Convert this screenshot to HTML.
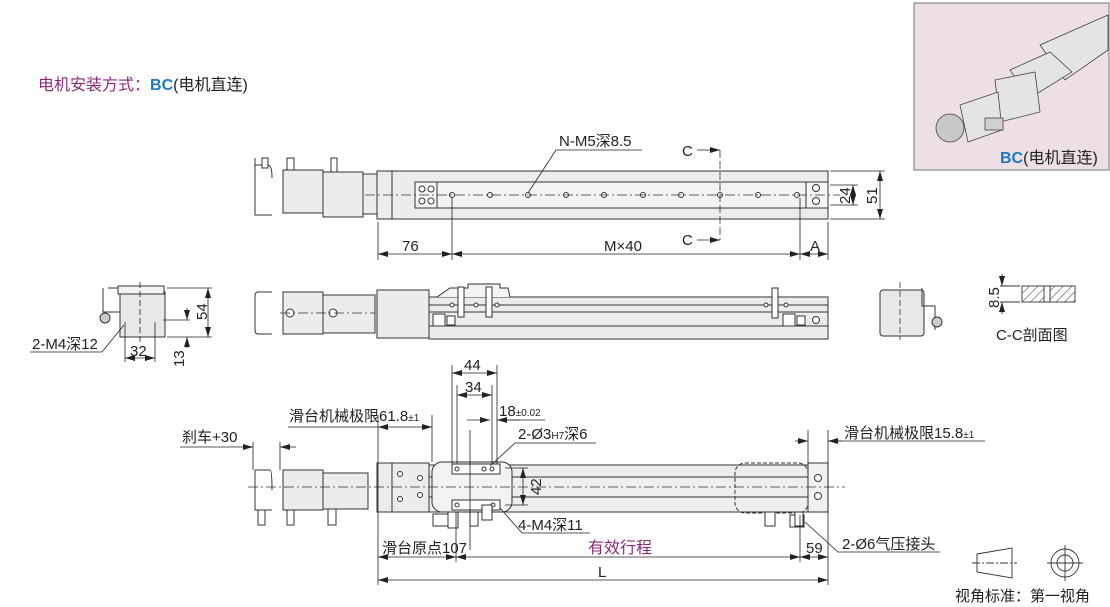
<!DOCTYPE html>
<html><head><meta charset="utf-8"><style>
html,body{margin:0;padding:0;background:#fff}
svg{display:block}
text{font-family:"Liberation Sans","Noto Sans CJK SC",sans-serif;fill:#222}
</style></head><body>
<svg width="1110" height="607" viewBox="0 0 1110 607" xmlns="http://www.w3.org/2000/svg">
<defs>
<marker id="a" viewBox="0 0 10 6" refX="10" refY="3" markerWidth="10" markerHeight="6" orient="auto-start-reverse" markerUnits="userSpaceOnUse"><path d="M0,0 L10,3 L0,6z" fill="#222"/></marker>
<pattern id="h" width="6" height="6" patternUnits="userSpaceOnUse" patternTransform="rotate(45)"><line x1="0" y1="0" x2="0" y2="6" stroke="#444" stroke-width="1"/></pattern>
</defs>
<g font-size="15">
<!-- title -->
<text x="38" y="90" font-size="16"><tspan style="fill:#8b2a7a">电机安装方式：</tspan><tspan style="fill:#1a7ac0" font-weight="bold">BC</tspan><tspan>(电机直连)</tspan></text>

<!-- photo box -->
<rect x="914" y="3" width="195" height="167" fill="#ecdfe5" stroke="#777"/>
<g stroke="#444" fill="#e4e4e4" stroke-width="0.8">
<polygon points="1040,45 1108,15 1108,50 1065,80"/>
<polygon points="1010,70 1050,52 1072,72 1030,98"/>
<polygon points="995,80 1035,72 1040,112 1000,122"/>
<polygon points="960,105 998,92 1002,130 968,142"/>
<circle cx="950" cy="128" r="14" fill="#c8c8c8"/>
<rect x="985" y="118" width="18" height="12" fill="#d0d0d0"/>
</g>
<text x="1000" y="163" font-size="16"><tspan style="fill:#1a7ac0" font-weight="bold">BC</tspan>(电机直连)</text>

<g stroke="#333" stroke-width="1" fill="#ececec">
<!-- ===== TOP VIEW ===== -->
<path d="M255,158 V215 H272 M255,165 H268 Q272,165 272,178" fill="none"/>
<rect x="262" y="158" width="6" height="10" fill="#fff"/>
<rect x="287" y="158" width="7" height="12" fill="#fff"/>
<rect x="283" y="170" width="40" height="43"/>
<rect x="323" y="172" width="40" height="45"/>
<rect x="331" y="158" width="6" height="14" fill="#fff"/>
<rect x="363" y="174" width="14" height="40"/>
<rect x="377" y="171" width="451" height="48"/>
<line x1="392" y1="171" x2="392" y2="219"/>
<rect x="415" y="182" width="405" height="26" fill="#f3f3f3"/>
<rect x="415" y="182" width="22" height="26" fill="#f6f6f6"/>
<rect x="806" y="182" width="22" height="26" fill="#f6f6f6"/>
<g fill="#fff"><circle cx="422" cy="189" r="3"/><circle cx="431" cy="189" r="3"/><circle cx="422" cy="201" r="3"/><circle cx="431" cy="201" r="3"/><circle cx="816" cy="188" r="3.5"/><circle cx="816" cy="201" r="3.5"/></g>
<g fill="#fff"><circle cx="452" cy="195" r="2.5"/><circle cx="490" cy="195" r="2.5"/><circle cx="528" cy="195" r="2.5"/><circle cx="566" cy="195" r="2.5"/><circle cx="604" cy="195" r="2.5"/><circle cx="643" cy="195" r="2.5"/><circle cx="681" cy="195" r="2.5"/><circle cx="720" cy="195" r="2.5"/><circle cx="758" cy="195" r="2.5"/><circle cx="797" cy="195" r="2.5"/></g>
</g>
<line x1="365" y1="195" x2="840" y2="195" stroke="#333" stroke-dasharray="10,3,2,3" stroke-width="0.8"/>
<line x1="720" y1="150" x2="720" y2="240" stroke="#333" stroke-dasharray="8,3" stroke-width="0.8"/>
<g stroke="#222" stroke-width="0.8" fill="none">
<line x1="697" y1="150" x2="720" y2="150" marker-end="url(#a)"/>
<line x1="697" y1="240" x2="720" y2="240" marker-end="url(#a)"/>
<line x1="378" y1="222" x2="378" y2="260"/><line x1="452" y1="198" x2="452" y2="260"/><line x1="800" y1="198" x2="800" y2="260"/><line x1="828" y1="222" x2="828" y2="260"/>
<line x1="378" y1="254" x2="452" y2="254" marker-start="url(#a)" marker-end="url(#a)"/>
<line x1="452" y1="254" x2="800" y2="254" marker-start="url(#a)" marker-end="url(#a)"/>
<line x1="800" y1="254" x2="828" y2="254" marker-start="url(#a)" marker-end="url(#a)"/>
<line x1="830" y1="185" x2="858" y2="185"/><line x1="830" y1="205" x2="858" y2="205"/>
<line x1="853" y1="185" x2="853" y2="205" marker-start="url(#a)" marker-end="url(#a)"/>
<line x1="830" y1="171" x2="885" y2="171"/><line x1="830" y1="219" x2="885" y2="219"/>
<line x1="880" y1="171" x2="880" y2="219" marker-start="url(#a)" marker-end="url(#a)"/>
<polyline points="642,150 556,150 528,193"/>
</g>
<text x="559" y="146">N-M5深8.5</text>
<text x="682" y="156">C</text><text x="682" y="245">C</text>
<text x="402" y="251">76</text><text x="604" y="251">M×40</text><text x="810" y="251">A</text>
<text x="850" y="204" transform="rotate(-90 850 204)">24</text>
<text x="877" y="204" transform="rotate(-90 877 204)">51</text>

<!-- ===== SIDE VIEW ===== -->
<g stroke="#333" stroke-width="1" fill="#ececec">
<path d="M272,292 H258 Q255,292 255,296 V330 Q255,334 258,334 H272" fill="none"/>
<rect x="283" y="292" width="40" height="42"/>
<rect x="323" y="295" width="52" height="38"/>
<rect x="377" y="290" width="52" height="48"/>
<rect x="429" y="297" width="399" height="42"/>
<line x1="429" y1="305" x2="828" y2="305"/><line x1="429" y1="312" x2="828" y2="312"/><line x1="429" y1="326" x2="828" y2="326"/>
<path d="M437,297 L450,288 H468 V284 H500 V288 H508 L510,297" fill="#f3f3f3"/>
<rect x="458" y="287" width="6" height="30" fill="#fff"/><rect x="486" y="287" width="6" height="30" fill="#fff"/>
<rect x="772" y="288" width="6" height="30" fill="#fff"/>
<rect x="433" y="314" width="12" height="12" fill="#fff"/><rect x="447" y="316" width="8" height="9" fill="#fff"/>
<rect x="783" y="314" width="12" height="12" fill="#fff"/><rect x="797" y="316" width="8" height="9" fill="#fff"/>
<circle cx="816" cy="320" r="3.5" fill="#fff"/><circle cx="290" cy="313" r="4" fill="#fff"/><circle cx="333" cy="313" r="4" fill="#fff"/>
<g fill="#fff"><circle cx="452" cy="305" r="2"/><circle cx="476" cy="305" r="2"/><circle cx="497" cy="305" r="2"/><circle cx="766" cy="305" r="2"/><circle cx="786" cy="305" r="2"/></g>
</g>
<line x1="280" y1="313" x2="375" y2="313" stroke="#333" stroke-dasharray="10,3,2,3" stroke-width="0.8"/>

<!-- left end view -->
<g stroke="#333" stroke-width="1" fill="#e8e8e8">
<rect x="120" y="292" width="45" height="45"/>
<path d="M103,288 V312 H120 M108,288 H118 V292" fill="none"/>
<circle cx="105" cy="318" r="5" fill="#ccc"/>
<rect x="118" y="286" width="46" height="8" fill="#f4f4f4"/>
</g>
<g stroke="#222" stroke-width="0.8" fill="none">
<line x1="140" y1="282" x2="140" y2="342" stroke-dasharray="6,3"/>
<line x1="167" y1="288" x2="212" y2="288"/><line x1="167" y1="337" x2="212" y2="337"/>
<line x1="208" y1="288" x2="208" y2="337" marker-start="url(#a)" marker-end="url(#a)"/>
<line x1="163" y1="320" x2="190" y2="320"/>
<line x1="187" y1="308" x2="187" y2="320" marker-end="url(#a)"/><line x1="187" y1="348" x2="187" y2="337" marker-end="url(#a)"/>
<line x1="125" y1="322" x2="125" y2="362"/><line x1="155" y1="322" x2="155" y2="362"/>
<line x1="125" y1="358" x2="155" y2="358" marker-start="url(#a)" marker-end="url(#a)"/>
<polyline points="30,352 102,352 124,325"/>
</g>
<text x="32" y="349">2-M4深12</text><text x="130" y="356">32</text>
<text x="207" y="320" transform="rotate(-90 207 320)">54</text>
<text x="184" y="367" transform="rotate(-90 184 367)">13</text>

<!-- right end view -->
<g stroke="#333" stroke-width="1" fill="#e8e8e8">
<rect x="880" y="290" width="44" height="46" rx="3"/>
<path d="M922,288 V306 H935 V330" fill="none"/>
<circle cx="937" cy="322" r="5" fill="#ccc"/>
</g>
<line x1="900" y1="282" x2="900" y2="340" stroke="#333" stroke-dasharray="6,3" stroke-width="0.8"/>

<!-- C-C -->
<g stroke="#333" stroke-width="0.9">
<rect x="1022" y="286" width="28" height="16" fill="url(#h)"/>
<rect x="1050" y="286" width="25" height="16" fill="url(#h)"/>
<rect x="1044" y="286" width="6" height="16" fill="#fff"/>
<line x1="1000" y1="286" x2="1020" y2="286"/><line x1="1000" y1="302" x2="1020" y2="302"/>
<line x1="1002" y1="274" x2="1002" y2="286" marker-end="url(#a)"/><line x1="1002" y1="314" x2="1002" y2="302" marker-end="url(#a)"/>
</g>
<text x="999" y="308" transform="rotate(-90 999 308)">8.5</text>
<text x="996" y="340">C-C剖面图</text>

<!-- ===== BOTTOM VIEW ===== -->
<g stroke="#333" stroke-width="1" fill="#ececec">
<path d="M255,470 V510 H272 M255,470 H270 Q272,470 272,490" fill="none"/>
<rect x="258" y="510" width="7" height="15" fill="#fff"/><rect x="287" y="510" width="7" height="15" fill="#fff"/>
<rect x="283" y="470" width="40" height="40"/>
<rect x="323" y="473" width="45" height="36"/>
<rect x="328" y="509" width="8" height="16" fill="#fff"/>
<rect x="377" y="463" width="52" height="49"/>
<line x1="392" y1="463" x2="392" y2="512"/>
<rect x="429" y="465" width="399" height="47" fill="#eeeeee"/>
<line x1="429" y1="477" x2="828" y2="477"/><line x1="429" y1="497" x2="828" y2="497"/>
<rect x="432" y="462" width="80" height="50" rx="10" fill="#f3f3f3"/>
<rect x="452" y="464" width="48" height="10" fill="#fff"/>
<rect x="452" y="500" width="48" height="10" fill="#fff"/>
<rect x="735" y="463" width="73" height="50" rx="10" fill="none" stroke-dasharray="4,2"/>
<rect x="808" y="463" width="20" height="49" fill="#f1f1f1"/>
<g fill="#fff"><circle cx="400" cy="474" r="2.5"/><circle cx="400" cy="499" r="2.5"/><circle cx="420" cy="478" r="2.5"/><circle cx="420" cy="495" r="2.5"/><circle cx="818" cy="478" r="3.5"/><circle cx="818" cy="496" r="3.5"/>
<circle cx="457" cy="469" r="2"/><circle cx="484" cy="469" r="2"/><circle cx="492" cy="469" r="2"/><circle cx="457" cy="505" r="2"/><circle cx="493" cy="505" r="2"/></g>
<rect x="433" y="514" width="16" height="12" fill="#fff"/><rect x="448" y="512" width="10" height="16" fill="#fff"/><rect x="470" y="512" width="8" height="14" fill="#fff"/><rect x="482" y="505" width="10" height="15" fill="#fff"/>
<rect x="765" y="512" width="10" height="14" fill="#fff"/><rect x="790" y="515" width="14" height="12" fill="#fff"/><rect x="795" y="512" width="8" height="14" fill="#fff"/>
</g>
<line x1="248" y1="487" x2="845" y2="487" stroke="#333" stroke-dasharray="10,3,2,3" stroke-width="0.8"/>
<g stroke="#222" stroke-width="0.8" fill="none">
<line x1="253" y1="442" x2="253" y2="470"/><line x1="280" y1="442" x2="280" y2="470"/>
<line x1="180" y1="447" x2="253" y2="447" marker-end="url(#a)"/><line x1="296" y1="447" x2="280" y2="447" marker-end="url(#a)"/>
<line x1="378" y1="415" x2="378" y2="585"/><line x1="432" y1="415" x2="432" y2="462"/>
<line x1="288" y1="427" x2="378" y2="427"/>
<line x1="378" y1="427" x2="432" y2="427" marker-start="url(#a)" marker-end="url(#a)"/>
<line x1="452" y1="365" x2="452" y2="464"/><line x1="497" y1="365" x2="497" y2="464"/>
<line x1="457" y1="385" x2="457" y2="464"/><line x1="492" y1="385" x2="492" y2="464"/>
<line x1="452" y1="373" x2="497" y2="373" marker-start="url(#a)" marker-end="url(#a)"/>
<line x1="457" y1="395" x2="492" y2="395" marker-start="url(#a)" marker-end="url(#a)"/>
<line x1="467" y1="420" x2="490" y2="420" marker-end="url(#a)"/><line x1="520" y1="420" x2="497" y2="420" marker-end="url(#a)"/>
<line x1="497" y1="420" x2="545" y2="420"/>
<line x1="470" y1="430" x2="470" y2="550"/>
<polyline points="596,443 515,443 490,466"/>
<line x1="505" y1="468" x2="528" y2="468"/><line x1="505" y1="505" x2="528" y2="505"/>
<line x1="523" y1="468" x2="523" y2="505" marker-start="url(#a)" marker-end="url(#a)"/>
<polyline points="590,533 522,533 500,508"/>
<line x1="456" y1="512" x2="456" y2="562"/><line x1="800" y1="515" x2="800" y2="562"/><line x1="828" y1="430" x2="828" y2="585"/>
<line x1="808" y1="430" x2="808" y2="463"/>
<line x1="795" y1="441" x2="808" y2="441" marker-end="url(#a)"/><line x1="842" y1="441" x2="828" y2="441" marker-end="url(#a)"/>
<line x1="828" y1="441" x2="985" y2="441"/>
<line x1="378" y1="557" x2="456" y2="557" marker-start="url(#a)" marker-end="url(#a)"/>
<line x1="456" y1="557" x2="800" y2="557" marker-start="url(#a)" marker-end="url(#a)"/>
<line x1="800" y1="557" x2="828" y2="557" marker-start="url(#a)" marker-end="url(#a)"/>
<line x1="378" y1="580" x2="828" y2="580" marker-start="url(#a)" marker-end="url(#a)"/>
<polyline points="940,552 838,552 805,522"/>
</g>
<text x="182" y="442">刹车+30</text>
<text x="289" y="421">滑台机械极限61.8<tspan font-size="10">±1</tspan></text>
<text x="464" y="370">44</text><text x="465" y="392">34</text>
<text x="499" y="416">18<tspan font-size="10">±0.02</tspan></text>
<text x="518" y="439">2-Ø3<tspan font-size="10">H7</tspan>深6</text>
<text x="541" y="495" transform="rotate(-90 541 495)">42</text>
<text x="518" y="530">4-M4深11</text>
<text x="382" y="553">滑台原点107</text>
<text x="588" y="553" style="fill:#8b2a7a" font-size="16">有效行程</text>
<text x="806" y="553">59</text>
<text x="598" y="577">L</text>
<text x="844" y="438">滑台机械极限15.8<tspan font-size="10">±1</tspan></text>
<text x="842" y="549">2-Ø6气压接头</text>

<!-- view angle symbol -->
<g stroke="#333" stroke-width="0.9" fill="none">
<polygon points="977,554 1012,548 1012,578 977,572"/>
<line x1="972" y1="563" x2="1017" y2="563" stroke-dasharray="8,2,2,2"/>
<circle cx="1065" cy="563" r="14"/><circle cx="1065" cy="563" r="8"/>
<line x1="1047" y1="563" x2="1083" y2="563"/><line x1="1065" y1="545" x2="1065" y2="581"/>
</g>
<text x="955" y="601">视角标准：第一视角</text>
</g>
</svg>
</body></html>
